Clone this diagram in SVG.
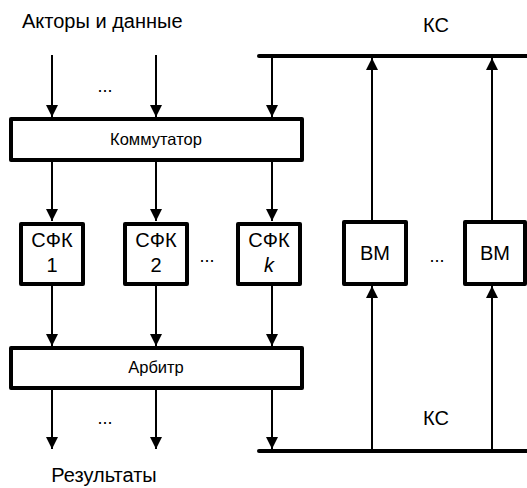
<svg xmlns="http://www.w3.org/2000/svg" width="527" height="488" viewBox="0 0 527 488">
<defs>
<marker id="ah" viewBox="0 0 12 12" refX="12" refY="6" markerWidth="12" markerHeight="12" markerUnits="userSpaceOnUse" orient="auto">
<path d="M0,0 L12,6 L0,12 z" fill="#000"/>
</marker>
</defs>
<style>
.box{fill:#fff;stroke:#000;stroke-width:4;stroke-linejoin:round}
.bus{stroke:#000;stroke-width:4;stroke-linecap:round;fill:none}
.arr{stroke:#000;stroke-width:2;fill:none;marker-end:url(#ah)}
text{font-family:"Liberation Sans",Arial,sans-serif;fill:#000}
.big{font-size:20px}
.sm{font-size:16.5px}
.dots{font-size:18px}
.c{text-anchor:middle}
</style>
<rect width="527" height="488" fill="#fff"/>
<text class="big" x="22" y="28">Акторы и данные</text>
<text class="big c" x="436" y="32">КС</text>
<text class="big c" x="436" y="425">КС</text>
<text class="big c" x="104" y="482">Результаты</text>
<text class="dots c" x="105" y="92">...</text>
<text class="dots c" x="105" y="424">...</text>
<text class="dots c" x="207" y="262">...</text>
<text class="dots c" x="437" y="262">...</text>
<g id="connectors">
<line class="bus" x1="259" y1="56" x2="530" y2="56"/>
<line class="bus" x1="259" y1="451" x2="530" y2="451"/>
<line class="arr" x1="52" y1="55" x2="52" y2="117"/>
<line class="arr" x1="156" y1="55" x2="156" y2="117"/>
<line class="arr" x1="272" y1="56" x2="272" y2="117"/>
<line class="arr" x1="52" y1="161" x2="52" y2="221"/>
<line class="arr" x1="156" y1="161" x2="156" y2="221"/>
<line class="arr" x1="272" y1="161" x2="272" y2="221"/>
<line class="arr" x1="52" y1="285" x2="52" y2="346"/>
<line class="arr" x1="156" y1="285" x2="156" y2="346"/>
<line class="arr" x1="272" y1="285" x2="272" y2="346"/>
<line class="arr" x1="52" y1="389" x2="52" y2="449"/>
<line class="arr" x1="156" y1="389" x2="156" y2="449"/>
<line class="arr" x1="272" y1="389" x2="272" y2="449"/>
<line class="arr" x1="372" y1="221" x2="372" y2="58"/>
<line class="arr" x1="492" y1="221" x2="492" y2="58"/>
<line class="arr" x1="372" y1="450" x2="372" y2="286"/>
<line class="arr" x1="492" y1="450" x2="492" y2="286"/>
</g>
<g id="commutator">
<rect class="box" x="11" y="119" width="291" height="41"/>
<text class="sm c" x="156" y="145">Коммутатор</text>
</g>
<g id="sfk1">
<rect class="box" x="21" y="224" width="62" height="60"/>
<text class="big c" x="52" y="247">СФК</text>
<text class="big c" x="52" y="272">1</text>
</g>
<g id="sfk2">
<rect class="box" x="125" y="224" width="62" height="60"/>
<text class="big c" x="156" y="247">СФК</text>
<text class="big c" x="156" y="272">2</text>
</g>
<g id="sfkk">
<rect class="box" x="238" y="224" width="62" height="60"/>
<text class="big c" x="269" y="247">СФК</text>
<text class="big c" x="269" y="272" font-style="italic">k</text>
</g>
<g id="arbiter">
<rect class="box" x="11" y="348" width="291" height="40"/>
<text class="sm c" x="156" y="373">Арбитр</text>
</g>
<g id="vm1">
<rect class="box" x="344" y="222" width="62" height="62"/>
<text class="big c" x="375" y="260">ВМ</text>
</g>
<g id="vm2">
<rect class="box" x="465" y="222" width="60" height="62"/>
<text class="big c" x="495" y="260">ВМ</text>
</g>
</svg>
